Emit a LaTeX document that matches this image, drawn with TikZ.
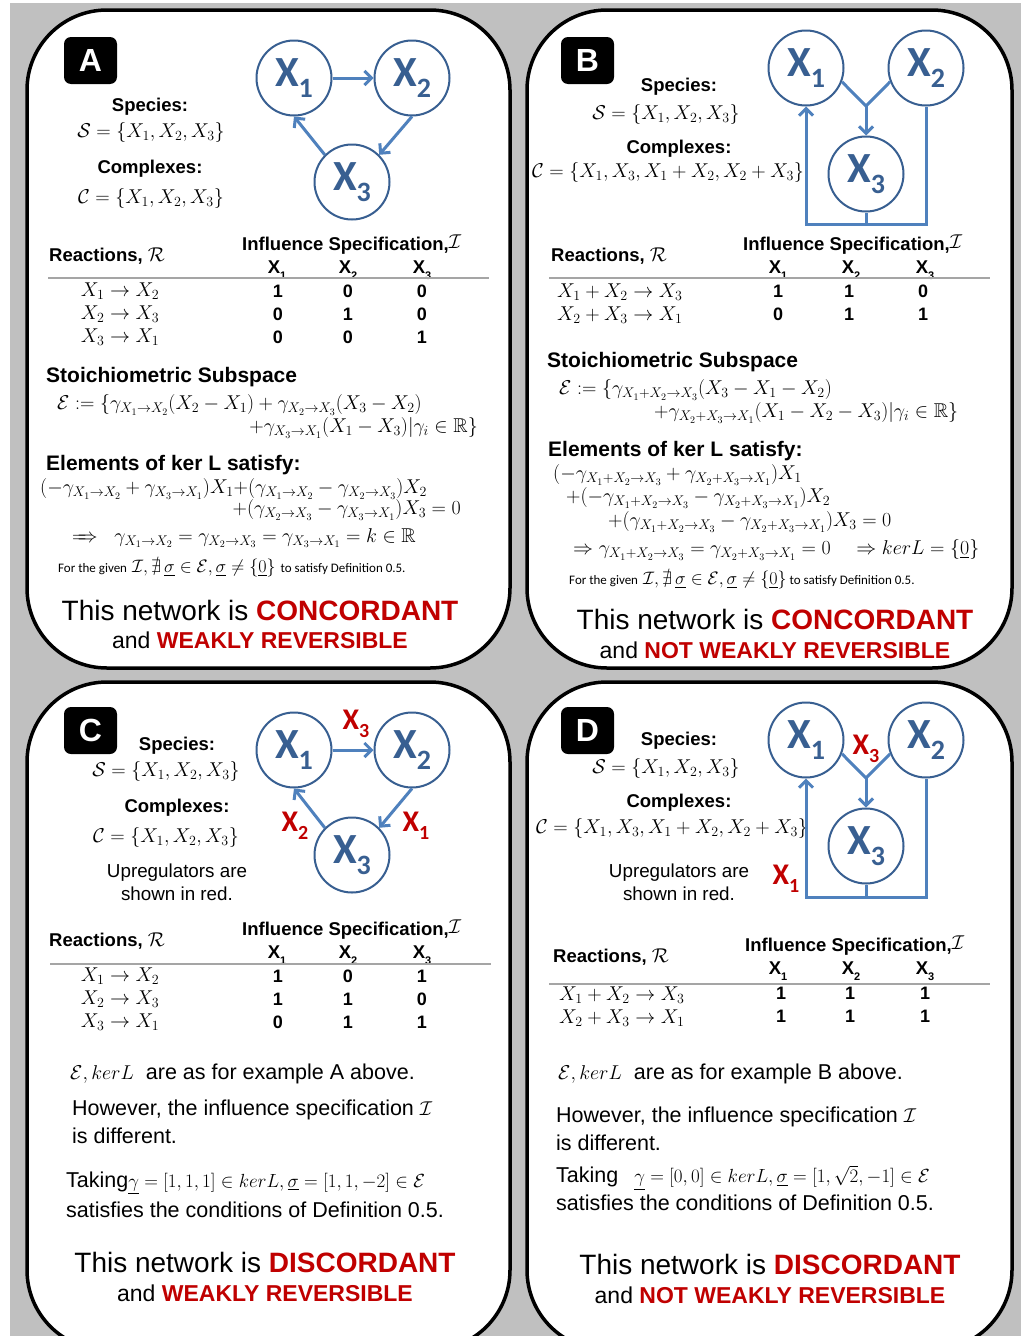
\documentclass[tikz,border=0pt]{standalone}
\usepackage{fix-cm}
\usepackage{amsmath,amssymb}
\usepackage{fontspec}
\setmainfont{Liberation Sans}
\newfontfamily\calib{Carlito}
\usetikzlibrary{arrows.meta}

\definecolor{bgGray}{RGB}{192,192,192}
\definecolor{nodeBlue}{RGB}{56,95,145}
\definecolor{arrowBlue}{RGB}{79,129,189}
\definecolor{verdictRed}{RGB}{192,0,0}
\definecolor{ruleGray}{RGB}{165,165,165}

\newcommand{\specX}[1]{X\raisebox{-0.27em}{\fontsize{28}{28}\selectfont#1}}
\newcommand{\redX}[1]{X\raisebox{-0.26em}{\fontsize{20}{20}\selectfont#1}}
\newcommand{\colX}[1]{X\raisebox{-0.33em}{\fontsize{11}{11}\selectfont#1}}
\newcommand{\longimp}{\mathrel{=\mkern-8mu\Rightarrow}}

\begin{document}
\begin{tikzpicture}[x=1pt, y=-1pt,
	panel/.style={draw=black, line width=3.5pt, fill=white, rounded corners=80pt},
	tag/.style={fill=black, text=white, rounded corners=7pt, inner sep=0pt,
		minimum width=53pt, minimum height=47pt,
		font=\bfseries\fontsize{32}{32}\selectfont},
	specie/.style={circle, draw=nodeBlue, line width=2pt, fill=white,
		minimum size=75pt, inner sep=0pt, text=nodeBlue,
		font=\calib\bfseries\fontsize{43}{43}\selectfont},
	upreg/.style={inner sep=0pt, text=verdictRed,
		font=\calib\bfseries\fontsize{30}{30}\selectfont},
	flow/.style={draw=arrowBlue, line width=3pt, -{Straight Barb[length=7pt, width=14pt]}},
	link/.style={draw=arrowBlue, line width=3pt},
	head/.style={inner sep=0pt, font=\bfseries\fontsize{18.5}{22}\selectfont},
	bighead/.style={inner sep=0pt, font=\bfseries\fontsize{21}{25}\selectfont},
	mth/.style={inner sep=0pt, font=\fontsize{20}{24}\selectfont},
	val/.style={inner sep=0pt, font=\bfseries\fontsize{18}{22}\selectfont},
	body/.style={inner sep=0pt, font=\fontsize{21.5}{26}\selectfont},
	note/.style={inner sep=0pt, align=center, font=\fontsize{18.8}{23}\selectfont},
	small/.style={inner sep=0pt, font=\fontsize{18}{22}\selectfont},
	verdict/.style={inner sep=0pt, font=\fontsize{28}{32}\selectfont},
	verdictb/.style={inner sep=0pt, font=\fontsize{23}{27}\selectfont},
	rulerow/.style={draw=ruleGray, line width=1.5pt}]

	\useasboundingbox (0,0) rectangle (1021,1336);
	\fill[white] (0,0) rectangle (1021,1336);
	\fill[bgGray] (10,3) rectangle (1021,1336);

	%% pannelli
	\draw[panel] (27,10) rectangle (510,668);
	\draw[panel] (527,10) rectangle (1012,668);
	\draw[panel] (27,682) rectangle (510,1350);
	\draw[panel] (527,682) rectangle (1012,1350);

	%% ---------------- A ----------------
	\node[tag] (tagA) at (90.5,60.5) {A};
	\node[head] (spA) at (150,107) {Species:};
	\node[mth] (sA) at (151,132) {$\mathcal{S}=\{X_1,X_2,X_3\}$};
	\node[head] (cpA) at (150,169) {Complexes:};
	\node[mth] (cA) at (151,198) {$\mathcal{C}=\{X_1,X_2,X_3\}$};

	\node[specie] (a1) at (294,78) {\specX{1}};
	\node[specie] (a2) at (412,78) {\specX{2}};
	\node[specie] (a3) at (352,182) {\specX{3}};
	\draw[flow] (a1.east) -- (a2.west);
	\draw[flow] (a2.-90) -- (a3.45);
	\draw[flow] (a3.135) -- (a1.-90);

	\node[head, anchor=west] (rxA) at (49,256) {Reactions, {\mdseries\fontsize{20}{24}\selectfont$\mathcal{R}$}};
	\node[head, anchor=west] (isA) at (242,245) {Influence Specification,{\mdseries\fontsize{20}{24}\selectfont\raisebox{2pt}{$\mathcal{I}$}}};
	\node[head] (hA1) at (277,270) {\colX{1}};
	\node[head] (hA2) at (348,270) {\colX{2}};
	\node[head] (hA3) at (422,270) {\colX{3}};
	\draw[rulerow] (48,278) -- (489,278);
	\foreach \rx/\va/\vb/\vc [count=\i] in {{X_1\to X_2}/1/0/0,{X_2\to X_3}/0/1/0,{X_3\to X_1}/0/0/1}{
		\pgfmathsetmacro{\yy}{268+23*\i}
		\node[mth] (rA\i) at (120,\yy) {$\rx$};
		\node[val] (vA\i a) at (278,\yy) {\va};
		\node[val] (vA\i b) at (348,\yy) {\vb};
		\node[val] (vA\i c) at (422,\yy) {\vc};
	}

	\node[bighead, anchor=west] (stA) at (46,377) {Stoichiometric Subspace};
	\node[mth, anchor=west] (eA1) at (57,405) {$\mathcal{E}:=\{\gamma_{X_1\to X_2}(X_2-X_1)+\gamma_{X_2\to X_3}(X_3-X_2)$};
	\node[mth, anchor=east] (eA2) at (478,428) {$+\gamma_{X_3\to X_1}(X_1-X_3)|\gamma_i\in\mathbb{R}\}$};
	\node[bighead, anchor=west] (kA) at (46,465) {Elements of ker L satisfy:};
	\node[mth, anchor=west] (kA1) at (40,489) {$(-\gamma_{X_1\to X_2}+\gamma_{X_3\to X_1})X_1{+}(\gamma_{X_1\to X_2}-\gamma_{X_2\to X_3})X_2$};
	\node[mth, anchor=east] (kA2) at (461,510) {$+(\gamma_{X_2\to X_3}-\gamma_{X_3\to X_1})X_3=0$};
	\node[mth, anchor=west] (kA3) at (72,538) {$\longimp\ \ \gamma_{X_1\to X_2}=\gamma_{X_2\to X_3}=\gamma_{X_3\to X_1}=k\in\mathbb{R}$};
	\node[small, anchor=west] (dA) at (58,568) {{\calib\fontsize{13}{15}\selectfont For the given} $\mathcal{I},\nexists\,\underline{\sigma}\in\mathcal{E},\underline{\sigma}\neq\{\underline{0}\}$ {\calib\fontsize{13}{15}\selectfont to satisfy Definition 0.5.}};
	\node[verdict] (vdA) at (260,610) {This network is \textbf{\color{verdictRed}CONCORDANT}};
	\node[verdictb] (wrA) at (260,640) {and \textbf{\color{verdictRed}WEAKLY REVERSIBLE}};

	%% ---------------- B ----------------
	\node[tag] (tagB) at (587.5,60.5) {B};
	\node[head] (spB) at (679,87) {Species:};
	\node[mth] (sB) at (666,114) {$\mathcal{S}=\{X_1,X_2,X_3\}$};
	\node[head] (cpB) at (679,149) {Complexes:};
	\node[mth, anchor=west] (cB) at (532,172) {$\mathcal{C}=\{X_1,X_3,X_1+X_2,X_2+X_3\}$};

	\node[specie] (b1) at (806,68) {\specX{1}};
	\node[specie] (b2) at (926,68) {\specX{2}};
	\node[specie] (b3) at (866,174) {\specX{3}};
	\coordinate (bj) at (866,106);
	\coordinate (bb) at (866,224);
	\draw[link, line join=round] (b1.-21) -- (bj) -- (b2.-159);
	\draw[flow] (bj) -- (b3.north);
	\draw[link] (b3.south) -- (bb);
	\draw[flow] (b2.south) |- (bb) -| (b1.south);

	\node[head, anchor=west] (rxB) at (551,256) {Reactions, {\mdseries\fontsize{20}{24}\selectfont$\mathcal{R}$}};
	\node[head, anchor=west] (isB) at (743,245) {Influence Specification,{\mdseries\fontsize{20}{24}\selectfont\raisebox{2pt}{$\mathcal{I}$}}};
	\node[head] (hB1) at (778,270) {\colX{1}};
	\node[head] (hB2) at (851,270) {\colX{2}};
	\node[head] (hB3) at (925,270) {\colX{3}};
	\draw[rulerow] (549,278) -- (990,278);
	\foreach \rx/\va/\vb/\vc [count=\i] in {{X_1+X_2\to X_3}/1/1/0,{X_2+X_3\to X_1}/0/1/1}{
		\pgfmathsetmacro{\yy}{269+23*\i}
		\node[mth, anchor=west] (rB\i) at (557,\yy) {$\rx$};
		\node[val] (vB\i a) at (778,\yy-1) {\va};
		\node[val] (vB\i b) at (849,\yy-1) {\vb};
		\node[val] (vB\i c) at (923,\yy-1) {\vc};
	}

	\node[bighead, anchor=west] (stB) at (547,362) {Stoichiometric Subspace};
	\node[mth, anchor=west] (eB1) at (559,390) {$\mathcal{E}:=\{\gamma_{X_1+X_2\to X_3}(X_3-X_1-X_2)$};
	\node[mth, anchor=west] (eB2) at (654,413) {$+\gamma_{X_2+X_3\to X_1}(X_1-X_2-X_3)|\gamma_i\in\mathbb{R}\}$};
	\node[bighead, anchor=west] (kB) at (548,451) {Elements of ker L satisfy:};
	\node[mth, anchor=west] (kB1) at (553,475) {$(-\gamma_{X_1+X_2\to X_3}+\gamma_{X_2+X_3\to X_1})X_1$};
	\node[mth, anchor=west] (kB2) at (566,498) {$+(-\gamma_{X_1+X_2\to X_3}-\gamma_{X_2+X_3\to X_1})X_2$};
	\node[mth, anchor=west] (kB3) at (608,522) {$+(\gamma_{X_1+X_2\to X_3}-\gamma_{X_2+X_3\to X_1})X_3=0$};
	\node[mth, anchor=west] (kB4) at (573,550) {$\Rightarrow\gamma_{X_1+X_2\to X_3}=\gamma_{X_2+X_3\to X_1}=0\quad\Rightarrow ker L=\{\underline{0}\}$};
	\node[small, anchor=west] (dB) at (569,580) {{\calib\fontsize{13}{15}\selectfont For the given} $\mathcal{I},\nexists\,\underline{\sigma}\in\mathcal{E},\underline{\sigma}\neq\{\underline{0}\}$\,{\calib\fontsize{13}{15}\selectfont to satisfy Definition 0.5.}};
	\node[verdict] (vdB) at (775,619) {This network is \textbf{\color{verdictRed}CONCORDANT}};
	\node[verdictb] (wrB) at (775,650) {and \textbf{\color{verdictRed}NOT WEAKLY REVERSIBLE}};

	%% ---------------- C ----------------
	\node[tag] (tagC) at (90.5,730.5) {C};
	\node[head] (spC) at (177,746) {Species:};
	\node[mth] (sC) at (166,771) {$\mathcal{S}=\{X_1,X_2,X_3\}$};
	\node[head] (cpC) at (177,808) {Complexes:};
	\node[mth] (cC) at (166,837) {$\mathcal{C}=\{X_1,X_2,X_3\}$};
	\node[note] (upC) at (177,882) {Upregulators are\\shown in red.};

	\node[specie] (c1) at (294,750) {\specX{1}};
	\node[specie] (c2) at (412,750) {\specX{2}};
	\node[specie] (c3) at (352,855) {\specX{3}};
	\draw[flow] (c1.east) -- (c2.west);
	\draw[flow] (c2.-90) -- (c3.45);
	\draw[flow] (c3.135) -- (c1.-90);
	\node[upreg] (uC3) at (356,724) {\redX{3}};
	\node[upreg] (uC2) at (295,826) {\redX{2}};
	\node[upreg] (uC1) at (416,826) {\redX{1}};

	\node[head, anchor=west] (rxC) at (49,941) {Reactions, {\mdseries\fontsize{20}{24}\selectfont$\mathcal{R}$}};
	\node[head, anchor=west] (isC) at (242,930) {Influence Specification,{\mdseries\fontsize{20}{24}\selectfont\raisebox{2pt}{$\mathcal{I}$}}};
	\node[head] (hC1) at (277,955) {\colX{1}};
	\node[head] (hC2) at (348,955) {\colX{2}};
	\node[head] (hC3) at (422,955) {\colX{3}};
	\draw[rulerow] (50,964) -- (491,964);
	\foreach \rx/\va/\vb/\vc [count=\i] in {{X_1\to X_2}/1/0/1,{X_2\to X_3}/1/1/0,{X_3\to X_1}/0/1/1}{
		\pgfmathsetmacro{\yy}{953+23*\i}
		\node[mth] (rC\i) at (120,\yy) {$\rx$};
		\node[val] (vC\i a) at (278,\yy) {\va};
		\node[val] (vC\i b) at (348,\yy) {\vb};
		\node[val] (vC\i c) at (422,\yy) {\vc};
	}

	\node[body, anchor=west] (asC) at (70,1074) {{\fontsize{20}{24}\selectfont$\mathcal{E},ker L$}\ \ are as for example A above.};
	\node[body, anchor=west] (hwC) at (72,1110) {However, the influence specification {\fontsize{20}{24}\selectfont$\mathcal{I}$}};
	\node[body, anchor=west] (idC) at (72,1136) {is different.};
	\node[body, anchor=west] (tkC) at (66,1183) {Taking{\fontsize{19}{24}\selectfont$\underline{\gamma}=[1,1,1]\in ker L,\underline{\sigma}=[1,1,-2]\in\mathcal{E}$}};
	\node[body, anchor=west] (sfC) at (66,1210) {satisfies the conditions of Definition 0.5.};
	\node[verdict] (vdC) at (265,1262) {This network is \textbf{\color{verdictRed}DISCORDANT}};
	\node[verdictb] (wrC) at (265,1293) {and \textbf{\color{verdictRed}WEAKLY REVERSIBLE}};

	%% ---------------- D ----------------
	\node[tag] (tagD) at (587.5,730.5) {D};
	\node[head] (spD) at (679,741) {Species:};
	\node[mth] (sD) at (666,768) {$\mathcal{S}=\{X_1,X_2,X_3\}$};
	\node[head] (cpD) at (679,803) {Complexes:};
	\node[mth, anchor=west] (cD) at (536,828) {$\mathcal{C}=\{X_1,X_3,X_1+X_2,X_2+X_3\}$};
	\node[note] (upD) at (679,882) {Upregulators are\\shown in red.};

	\node[specie] (d1) at (806,740) {\specX{1}};
	\node[specie] (d2) at (926,740) {\specX{2}};
	\node[specie] (d3) at (866,846) {\specX{3}};
	\coordinate (dj) at (866,778);
	\coordinate (db) at (866,897);
	\draw[link, line join=round] (d1.-21) -- (dj) -- (d2.-159);
	\draw[flow] (dj) -- (d3.north);
	\draw[link] (d3.south) -- (db);
	\draw[flow] (d2.south) |- (db) -| (d1.south);
	\node[upreg] (uD3) at (866,749) {\redX{3}};
	\node[upreg] (uD1) at (786,879) {\redX{1}};

	\node[head, anchor=west] (rxD) at (553,957) {Reactions, {\mdseries\fontsize{20}{24}\selectfont$\mathcal{R}$}};
	\node[head, anchor=west] (isD) at (745,946) {Influence Specification,{\mdseries\fontsize{20}{24}\selectfont\raisebox{2pt}{$\mathcal{I}$}}};
	\node[head] (hD1) at (778,971) {\colX{1}};
	\node[head] (hD2) at (851,971) {\colX{2}};
	\node[head] (hD3) at (925,971) {\colX{3}};
	\draw[rulerow] (549,984) -- (990,984);
	\foreach \rx/\va/\vb/\vc [count=\i] in {{X_1+X_2\to X_3}/1/1/1,{X_2+X_3\to X_1}/1/1/1}{
		\pgfmathsetmacro{\yy}{972+23*\i}
		\node[mth, anchor=west] (rD\i) at (559,\yy) {$\rx$};
		\node[val] (vD\i a) at (781,\yy-2) {\va};
		\node[val] (vD\i b) at (850,\yy-2) {\vb};
		\node[val] (vD\i c) at (925,\yy-2) {\vc};
	}

	\node[body, anchor=west] (asD) at (558,1074) {{\fontsize{20}{24}\selectfont$\mathcal{E},ker L$}\ \ are as for example B above.};
	\node[body, anchor=west] (hwD) at (556,1117) {However, the influence specification {\fontsize{20}{24}\selectfont$\mathcal{I}$}};
	\node[body, anchor=west] (idD) at (556,1143) {is different.};
	\node[body, anchor=west] (tkD) at (556,1178) {Taking\hspace{16pt}{\fontsize{19}{24}\selectfont$\underline{\gamma}=[0,0]\in ker L,\underline{\sigma}=[1,\sqrt{2},-1]\in\mathcal{E}$}};
	\node[body, anchor=west] (sfD) at (556,1203) {satisfies the conditions of Definition 0.5.};
	\node[verdict] (vdD) at (770,1264) {This network is \textbf{\color{verdictRed}DISCORDANT}};
	\node[verdictb] (wrD) at (770,1295) {and \textbf{\color{verdictRed}NOT WEAKLY REVERSIBLE}};
\end{tikzpicture}
\end{document}
